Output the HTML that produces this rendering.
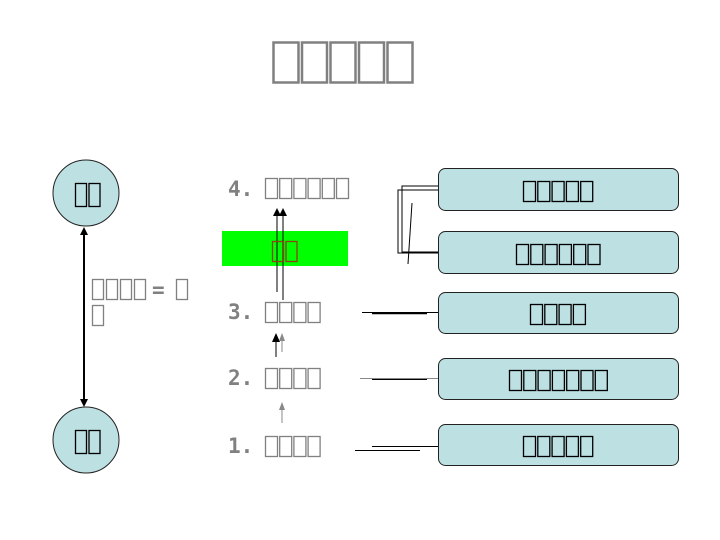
<!DOCTYPE html>
<html><head><meta charset="utf-8"><style>
html,body{margin:0;padding:0;background:#fff;}
svg{display:block;font-family:"DejaVu Sans Mono","Liberation Mono",monospace;}
</style></head><body>
<svg id="s" width="720" height="540" viewBox="0 0 720 540" xmlns="http://www.w3.org/2000/svg">
<circle cx="86" cy="193" r="33" fill="#bde0e3" stroke="#222" stroke-width="1"/>
<circle cx="86" cy="440" r="33" fill="#bde0e3" stroke="#222" stroke-width="1"/>
<line x1="84" y1="230" x2="84" y2="403" stroke="#000" stroke-width="2"/>
<path d="M84,227 l-4,8 h8 z M84,407 l-4,-8 h8 z" fill="#000"/>
<rect x="222" y="231" width="126" height="35" fill="#00ff00"/>
<g fill="#bde0e3" stroke="#222" stroke-width="1">
<rect x="438.5" y="168.5" width="240" height="42" rx="7"/>
<rect x="438.5" y="231.5" width="240" height="42" rx="7"/>
<rect x="438.5" y="292.5" width="240" height="41" rx="7"/>
<rect x="438.5" y="358.5" width="240" height="41" rx="7"/>
<rect x="438.5" y="424.5" width="240" height="41" rx="7"/>
</g>
<g stroke="#000" stroke-width="1" fill="none">
<path d="M438,186 H402 V252 H438"/>
<path d="M438,190 H398 V253 H438"/>
<line x1="438" y1="252.5" x2="402" y2="252.5" stroke-width="2"/>
<line x1="412" y1="203" x2="408" y2="264"/>
<line x1="362" y1="312.5" x2="438" y2="312.5"/>
<line x1="372" y1="313.5" x2="427" y2="313.5" stroke-width="1.5"/>
<line x1="360" y1="378.5" x2="438" y2="378.5" stroke="#888"/>
<line x1="372" y1="379.5" x2="427" y2="379.5"/>
<line x1="372" y1="446.5" x2="438" y2="446.5"/>
<line x1="355" y1="450.5" x2="420" y2="450.5"/>
<line x1="277" y1="212" x2="277" y2="292"/>
<line x1="283" y1="212" x2="283" y2="300"/>
<line x1="276" y1="338" x2="276" y2="357"/>
<line x1="282" y1="338" x2="282" y2="352" stroke="#888"/>
<line x1="282" y1="408" x2="282" y2="423" stroke="#888"/>
</g>
<path d="M277,208 l-4,8 h8 z M283,208 l-4,8 h8 z M276,333 l-4,9 h8 z" fill="#000"/>
<path d="M282,333 l-3,8 h6 z M282,402 l-3,8 h6 z" fill="#888"/>
<g font-size="21" font-weight="bold" fill="#808080">
<text x="228" y="196">4.</text>
<text x="228" y="319">3.</text>
<text x="228" y="385">2.</text>
<text x="228" y="453">1.</text>
<text x="152" y="297">=</text>
</g>
<g id="tofu"></g>
</svg>
<script>
var g=document.getElementById('tofu');
function row(x,y,n,w,h,step,col,sw){for(var i=0;i<n;i++){var r=document.createElementNS('http://www.w3.org/2000/svg','rect');r.setAttribute('x',x+i*step+0.5);r.setAttribute('y',y+0.5);r.setAttribute('width',w);r.setAttribute('height',h);r.setAttribute('fill','none');r.setAttribute('stroke',col);r.setAttribute('stroke-width',sw||1.3);g.appendChild(r);}}
var G='#808080';
row(273,42,5,25,40,28.5,G,2.5);
row(75,183,2,11,23,13.5,'#000',1.3);
row(75,430,2,11,23,13.5,'#000',1.3);
row(92,279,4,11,20,14,G,1.3);
row(176,279,1,11,20,14,G,1.3);
row(92,305,1,11,20,14,G,1.3);
row(265,178,6,12,20,14.2,G,1.3);
row(265,302,4,12,20,14.2,G,1.3);
row(265,368,4,12,20,14.2,G,1.3);
row(265,436,4,12,20,14.2,G,1.3);
row(272,241,2,11,20,13.5,'#8b4513',1.3);
row(523,181,5,12,20,14.3,'#000',1.3);
row(516,244,6,12,20,14.3,'#000',1.3);
row(530,304,4,12,20,14.3,'#000',1.3);
row(509,370,7,12,20,14.3,'#000',1.3);
row(523,436,5,12,20,14.3,'#000',1.3);
</script>
</body></html>
